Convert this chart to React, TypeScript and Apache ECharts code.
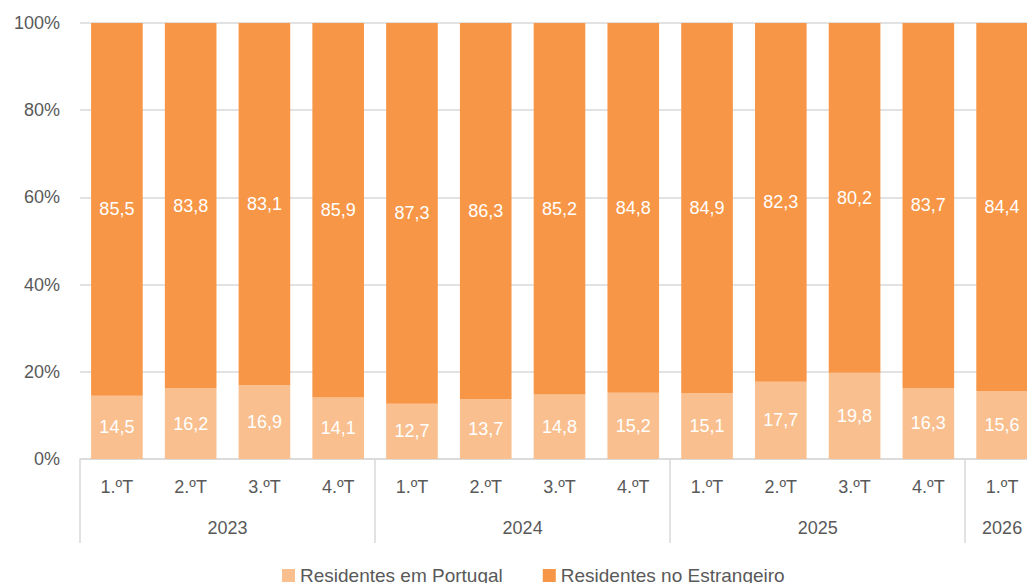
import React, { useEffect, useRef } from "react";
import * as echarts from "echarts";

const quarters = ["1.ºT", "2.ºT", "3.ºT", "4.ºT", "1.ºT", "2.ºT", "3.ºT", "4.ºT", "1.ºT", "2.ºT", "3.ºT", "4.ºT", "1.ºT"];
const years = ["2023", "2024", "2025", "2026"];
const quartersPerYear = [4, 4, 4, 1];
const residentesPortugal = [14.5, 16.2, 16.9, 14.1, 12.7, 13.7, 14.8, 15.2, 15.1, 17.7, 19.8, 16.3, 15.6];
const residentesEstrangeiro = [85.5, 83.8, 83.1, 85.9, 87.3, 86.3, 85.2, 84.8, 84.9, 82.3, 80.2, 83.7, 84.4];
const yTicks = [0, 20, 40, 60, 80, 100];

const FONT = "Liberation Sans, Arial, sans-serif";
const GREY = "#595959";

export default function App() {
  const ref = useRef<HTMLDivElement>(null);
  useEffect(() => {
    if (!ref.current) return;
    const chart = echarts.init(ref.current, undefined, { renderer: "svg" });
    const yearStarts: number[] = [];
    const yearCenters: number[] = [];
    let acc = 0;
    quartersPerYear.forEach((n) => {
      yearStarts.push(acc);
      yearCenters.push(acc + n / 2);
      acc += n;
    });
    const fmt = (p: any) => Number(p.value).toFixed(1).replace(".", ",");
    chart.setOption({
      animation: false,
      textStyle: { fontFamily: FONT },
      grid: { left: 80, right: 1, top: 23, bottom: 124, containLabel: false },
      legend: {
        left: 277,
        top: 561,
        itemWidth: 13,
        itemHeight: 13,
        itemGap: 40,
        icon: "rect",
        textStyle: { fontSize: 19, color: GREY, fontFamily: FONT },
        data: ["Residentes em Portugal", "Residentes no Estrangeiro"],
      },
      xAxis: [
        {
          type: "category",
          data: quarters,
          axisLine: { show: true, lineStyle: { color: "#d9d9d9", width: 1.5 } },
          axisTick: { show: false },
          axisLabel: { color: GREY, fontSize: 18, margin: 19, fontFamily: FONT },
        },
        {
          type: "value",
          min: 0,
          max: quarters.length,
          position: "bottom",
          axisLine: { show: false },
          splitLine: { show: false },
          axisTick: {
            show: true,
            customValues: yearStarts,
            length: 84,
            lineStyle: { color: "#d9d9d9", width: 1.5 },
          },
          axisLabel: {
            customValues: yearCenters,
            margin: 60,
            color: GREY,
            fontSize: 18,
            fontFamily: FONT,
            formatter: (v: number) => {
              const i = yearCenters.indexOf(v);
              return i >= 0 ? years[i] : "";
            },
          },
        },
      ],
      yAxis: {
        type: "value",
        min: 0,
        max: 100,
        interval: 20,
        axisLine: { show: false },
        axisTick: { show: false },
        splitLine: { lineStyle: { color: "#d9d9d9", width: 1.5 } },
        axisLabel: {
          color: GREY,
          fontSize: 18,
          margin: 20,
          fontFamily: FONT,
          formatter: (v: number) => (yTicks.includes(v) ? v + "%" : ""),
        },
      },
      series: [
        {
          name: "Residentes em Portugal",
          type: "bar",
          stack: "total",
          data: residentesPortugal,
          barCategoryGap: "30%",
          itemStyle: { color: "#F9BF8F" },
          label: { show: true, position: "inside", color: "#fff", fontSize: 18, fontFamily: FONT, formatter: fmt },
        },
        {
          name: "Residentes no Estrangeiro",
          type: "bar",
          stack: "total",
          data: residentesEstrangeiro,
          barCategoryGap: "30%",
          itemStyle: { color: "#F79646" },
          label: { show: true, position: "inside", color: "#fff", fontSize: 18, fontFamily: FONT, formatter: fmt },
        },
      ],
    });
    return () => chart.dispose();
  }, []);
  return (
    <div style={{ position: "fixed", left: 0, top: 0, width: 1027, height: 583, overflow: "hidden", background: "#fff" }}>
      <div ref={ref} style={{ width: 1040, height: 583 }} />
    </div>
  );
}
